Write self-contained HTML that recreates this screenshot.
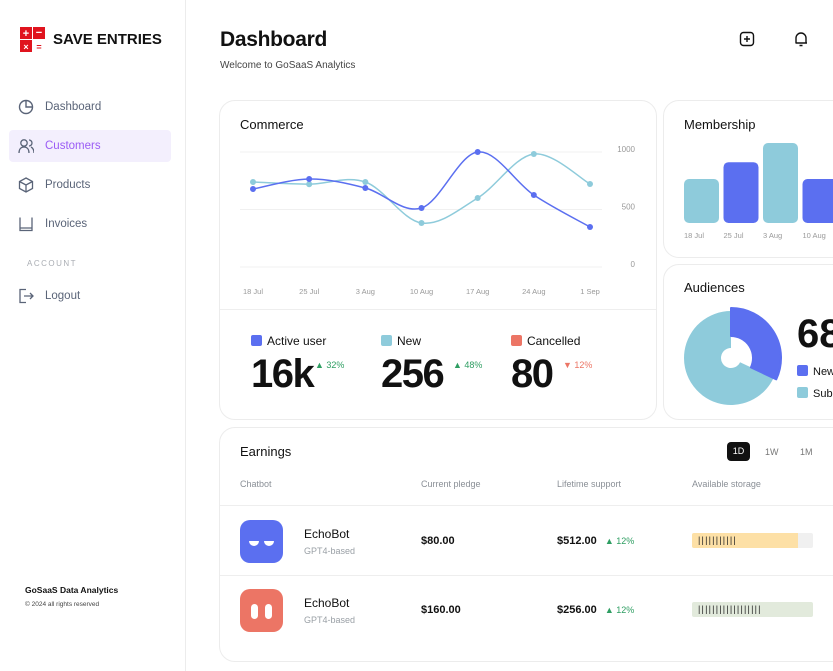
<!DOCTYPE html>
<html><head><meta charset="utf-8"><style>
body{margin:0;width:833px;height:671px;overflow:hidden;background:#fff;font-family:"Liberation Sans",sans-serif;position:relative}
.a{position:absolute}
.card{position:absolute;border:1px solid #ececec;border-radius:16px;background:#fff;box-sizing:border-box}
.nav{position:absolute;left:45px;font-size:11.5px;color:#5a6478}
.ic{position:absolute;left:18px;width:16px;height:16px}
.g{color:#9aa0a6;font-size:8px}
.hd{font-size:9px;color:#8a8f96}
</style></head><body>
<div class="a" style="left:0;top:0;width:185px;height:671px;border-right:1px solid #ececec"></div>
<svg class="a" style="left:20px;top:27px" width="26" height="26">
<rect x="0" y="0" width="12" height="12" fill="#e0141e"/><rect x="13" y="0" width="12" height="12" fill="#e0141e"/><rect x="0" y="13" width="12" height="12" fill="#e0141e"/>
<text x="6" y="10" fill="#fff" font-size="11" font-weight="bold" text-anchor="middle">+</text><text x="19" y="9" fill="#fff" font-size="11" font-weight="bold" text-anchor="middle">−</text><text x="6" y="23" fill="#fff" font-size="9" font-weight="bold" text-anchor="middle">×</text><text x="19" y="23" fill="#e0141e" font-size="9" font-weight="bold" text-anchor="middle">=</text></svg>
<div class="a" style="left:53px;top:31px;font-size:15px;font-weight:bold;color:#111">SAVE ENTRIES</div>
<svg class="ic" style="top:99px"><circle cx="8" cy="8" r="6.5" fill="none" stroke="#5a6478" stroke-width="1.4"/><path d="M8 1.5V8H14.5" fill="none" stroke="#5a6478" stroke-width="1.4"/></svg>
<div class="nav" style="top:101px">Dashboard</div>
<div class="a" style="left:9px;top:130px;width:162px;height:32px;background:#f3effd;border-radius:4px"></div>
<svg class="ic" style="top:138px"><circle cx="6" cy="5" r="3.2" fill="none" stroke="#5a6478" stroke-width="1.3"/><path d="M1 15c0-4 2-6 5-6s5 2 5 6M11 2a3 3 0 010 6M13 9c2 1 3 3 3 6" fill="none" stroke="#5a6478" stroke-width="1.3"/></svg>
<div class="nav" style="top:140px;color:#9b5cf5">Customers</div>
<svg class="ic" style="top:177px"><path d="M8 1L14.5 4.5V11.5L8 15L1.5 11.5V4.5ZM1.5 4.5L8 8L14.5 4.5M8 8V15" fill="none" stroke="#5a6478" stroke-width="1.3"/></svg>
<div class="nav" style="top:179px">Products</div>
<svg class="ic" style="top:216px"><path d="M2 1.5V14.5H14V1.5M2 12H14" fill="none" stroke="#5a6478" stroke-width="1.3"/></svg>
<div class="nav" style="top:218px">Invoices</div>
<div class="a" style="left:27px;top:259px;font-size:8px;letter-spacing:1.5px;color:#a9adb3">ACCOUNT</div>
<svg class="ic" style="top:288px"><path d="M8 1.5H2V14.5H8M6 8H15M12 5L15 8L12 11" fill="none" stroke="#5a6478" stroke-width="1.3"/></svg>
<div class="nav" style="top:290px">Logout</div>
<div class="a" style="left:25px;top:585px;font-size:8.5px;font-weight:bold;color:#111">GoSaaS Data Analytics</div>
<div class="a" style="left:25px;top:601px;font-size:6.5px;color:#444">© 2024 all rights reserved</div>

<div class="a" style="left:220px;top:28px;font-size:21px;font-weight:bold;color:#111;letter-spacing:-0.3px">Dashboard</div>
<div class="a" style="left:220px;top:60px;font-size:10px;color:#444">Welcome to GoSaaS Analytics</div>
<svg class="a" style="left:739px;top:31px" width="16" height="16"><rect x="1.5" y="1.5" width="13" height="13" rx="3" fill="none" stroke="#111" stroke-width="1.4"/><path d="M8 5V11M5 8H11" stroke="#111" stroke-width="1.4"/></svg>
<svg class="a" style="left:793px;top:31px" width="16" height="16"><path d="M3 12V7a5 5 0 0110 0V12H2.5M14 12H13M6.5 14.5h3" fill="none" stroke="#111" stroke-width="1.4"/></svg>

<div class="card" style="left:219px;top:100px;width:438px;height:320px"></div>
<div class="a" style="left:240px;top:117px;font-size:13px;color:#111">Commerce</div>
<svg class="a" id="lc" style="left:219px;top:100px" width="438" height="210"></svg>
<div class="a" style="left:220px;top:309px;width:436px;height:1px;background:#eee"></div>
<div class="a" style="left:251px;top:334px">
<div style="position:absolute;left:0;top:1px;width:11px;height:11px;border-radius:2px;background:#5b6ff0"></div>
<div style="position:absolute;left:16px;top:0;font-size:12px;white-space:nowrap;color:#111">Active user</div>
<div style="position:absolute;left:0;top:18px;font-size:40px;font-weight:bold;color:#111;letter-spacing:-1.5px">16k</div>
<div style="position:absolute;left:64px;top:26px;font-size:9px;color:#2e9e62;white-space:nowrap">▲ 32%</div></div>
<div class="a" style="left:381px;top:334px">
<div style="position:absolute;left:0;top:1px;width:11px;height:11px;border-radius:2px;background:#8ecbdb"></div>
<div style="position:absolute;left:16px;top:0;font-size:12px;color:#111">New</div>
<div style="position:absolute;left:0;top:18px;font-size:40px;font-weight:bold;color:#111;letter-spacing:-1.5px">256</div>
<div style="position:absolute;left:72px;top:26px;font-size:9px;color:#2e9e62;white-space:nowrap">▲ 48%</div></div>
<div class="a" style="left:511px;top:334px">
<div style="position:absolute;left:0;top:1px;width:11px;height:11px;border-radius:2px;background:#ec7565"></div>
<div style="position:absolute;left:16px;top:0;font-size:12px;color:#111">Cancelled</div>
<div style="position:absolute;left:0;top:18px;font-size:40px;font-weight:bold;color:#111;letter-spacing:-1.5px">80</div>
<div style="position:absolute;left:52px;top:26px;font-size:9px;color:#ec7565;white-space:nowrap">▼ 12%</div></div>

<div class="card" style="left:663px;top:100px;width:190px;height:158px"></div>
<div class="a" style="left:684px;top:117px;font-size:13px;color:#111">Membership</div>
<svg class="a" id="bc" style="left:663px;top:100px" width="170" height="158"></svg>

<div class="card" style="left:663px;top:264px;width:190px;height:156px"></div>
<div class="a" style="left:684px;top:280px;font-size:13px;color:#111">Audiences</div>
<svg class="a" id="pc" style="left:663px;top:264px" width="130" height="156"></svg>
<div class="a" style="left:797px;top:312px;font-size:40px;font-weight:bold;color:#111">68</div>
<div class="a" style="left:797px;top:365px;font-size:11px;color:#111;white-space:nowrap"><span style="display:inline-block;width:11px;height:11px;background:#5b6ff0;border-radius:2px;vertical-align:-1px;margin-right:5px"></span>New</div>
<div class="a" style="left:797px;top:387px;font-size:11px;color:#111;white-space:nowrap"><span style="display:inline-block;width:11px;height:11px;background:#8ecbdb;border-radius:2px;vertical-align:-1px;margin-right:5px"></span>Subscribed</div>

<div class="card" style="left:219px;top:427px;width:640px;height:235px"></div>
<div class="a" style="left:240px;top:444px;font-size:13px;color:#111">Earnings</div>
<div class="a" style="left:727px;top:442px;width:23px;height:19px;border-radius:4px;background:#111;color:#fff;font-size:9px;text-align:center;line-height:19px">1D</div>
<div class="a" style="left:765px;top:447px;font-size:9px;color:#777">1W</div>
<div class="a" style="left:800px;top:447px;font-size:9px;color:#777">1M</div>
<div class="a hd" style="left:240px;top:479px">Chatbot</div>
<div class="a hd" style="left:421px;top:479px">Current pledge</div>
<div class="a hd" style="left:557px;top:479px">Lifetime support</div>
<div class="a hd" style="left:692px;top:479px">Available storage</div>
<div class="a" style="left:220px;top:505px;width:613px;height:1px;background:#eee"></div>
<div class="a" style="left:220px;top:575px;width:613px;height:1px;background:#eee"></div>

<svg class="a" style="left:240px;top:520px" width="43" height="43"><rect width="43" height="43" rx="10" fill="#5b6ff0"/><path d="M9 21h10a5 5 0 01-10 0zM24 21h10a5 5 0 01-10 0z" fill="#fff"/></svg>
<div class="a" style="left:304px;top:527px;font-size:12px;color:#111">EchoBot</div>
<div class="a g" style="left:304px;top:546px;font-size:9px">GPT4-based</div>
<div class="a" style="left:421px;top:535px;font-size:11px;font-weight:bold;color:#111">$80.00</div>
<div class="a" style="left:557px;top:535px;font-size:11px;font-weight:bold;color:#111">$512.00 <span style="font-size:9px;color:#2e9e62;font-weight:normal;margin-left:5px">▲ 12%</span></div>
<div class="a" style="left:692px;top:533px;width:121px;height:15px;background:#f0f0f0;border-radius:2px;overflow:hidden"><div style="width:106px;height:15px;background:#fde0a6;font-size:9px;line-height:15px;letter-spacing:1.2px;padding-left:6px;box-sizing:border-box;color:#222;white-space:nowrap">|||||||||||</div></div>

<svg class="a" style="left:240px;top:589px" width="43" height="43"><rect width="43" height="43" rx="10" fill="#ec7565"/><rect x="11" y="15" width="7" height="15" rx="3.5" fill="#fff"/><rect x="25" y="15" width="7" height="15" rx="3.5" fill="#fff"/></svg>
<div class="a" style="left:304px;top:596px;font-size:12px;color:#111">EchoBot</div>
<div class="a g" style="left:304px;top:615px;font-size:9px">GPT4-based</div>
<div class="a" style="left:421px;top:604px;font-size:11px;font-weight:bold;color:#111">$160.00</div>
<div class="a" style="left:557px;top:604px;font-size:11px;font-weight:bold;color:#111">$256.00 <span style="font-size:9px;color:#2e9e62;font-weight:normal;margin-left:5px">▲ 12%</span></div>
<div class="a" style="left:692px;top:602px;width:121px;height:15px;background:#e2eadc;border-radius:2px;overflow:hidden;font-size:9px;line-height:15px;letter-spacing:1.2px;padding-left:6px;box-sizing:border-box;color:#222;white-space:nowrap">||||||||||||||||||</div>

<script>
const NS='http://www.w3.org/2000/svg';
const dates=['18 Jul','25 Jul','3 Aug','10 Aug','17 Aug','24 Aug','1 Sep'];
const activeUsers=[678,765,687,513,1000,626,348];
const newUsers=[739,720,739,383,600,983,722];
const yTicks=[0,500,1000];
const memberDates=['18 Jul','25 Jul','3 Aug','10 Aug'];
const memberValues=[55,76,100,55];
const audienceValues=[32,68];

function mk(p,t,a){const e=document.createElementNS(NS,t);for(const k in a)e.setAttribute(k,a[k]);p.appendChild(e);return e;}
const lc=document.getElementById('lc');
const x=i=>34+i*(337/(dates.length-1));
const y=v=>167-v*0.115;
yTicks.forEach(t=>{
  const l=mk(lc,'line',{x1:21,x2:383,y1:y(t),y2:y(t),stroke:'#f0f0f0'});
  
  
  const tx=mk(lc,'text',{x:416,y:y(t),'font-size':8,fill:'#999','text-anchor':'end'});tx.textContent=t;
  
  
});
dates.forEach((d,i)=>{
  const tx=mk(lc,'text',{x:x(i),y:194,'font-size':7.5,fill:'#999','text-anchor':'middle'});tx.textContent=d;
  
  
});
function path(vals){
  const p=vals.map((v,i)=>[x(i),y(v)]);let d='M'+p[0];
  for(let i=0;i<p.length-1;i++){const p0=p[i-1]||p[i],p1=p[i],p2=p[i+1],p3=p[i+2]||p2;
    d+='C'+(p1[0]+(p2[0]-p0[0])/6)+','+(p1[1]+(p2[1]-p0[1])/6)+' '+(p2[0]-(p3[0]-p1[0])/6)+','+(p2[1]-(p3[1]-p1[1])/6)+' '+p2;}
  return d;}
[[newUsers,'#8ecbdb','new'],[activeUsers,'#5b6ff0','active']].forEach(([vals,c,n])=>{
  const l=mk(lc,'path',{d:path(vals),fill:'none',stroke:c,'stroke-width':1.5});
  
  
  vals.forEach((v,i)=>{const pt=mk(lc,'circle',{cx:x(i),cy:y(v),r:3,fill:c});
    
    });
});
const bc=document.getElementById('bc');
memberValues.forEach((v,i)=>{const h=v*0.8,bx=21+i*39.5;
  const r=mk(bc,'rect',{x:bx,y:123-h,width:35,height:h,rx:5,fill:i%2?'#5b6ff0':'#8ecbdb'});
  
  
  const t=mk(bc,'text',{x:bx,y:138,'font-size':7.5,fill:'#999'});t.textContent=memberDates[i];
  
  
});
const pc=document.getElementById('pc');const cx=68,cy=94;
function sector(a0,a1,r0,r1){const P=(a,r)=>[cx+r*Math.sin(a),cy-r*Math.cos(a)];const lg=(a1-a0)>Math.PI?1:0;
  const A=P(a0,r1),B=P(a1,r1),C=P(a1,r0),D=P(a0,r0);
  return 'M'+A+'A'+r1+','+r1+' 0 '+lg+' 1 '+B+'L'+C+'A'+r0+','+r0+' 0 '+lg+' 0 '+D+'Z';}
const tot=audienceValues[0]+audienceValues[1];
const aNew=audienceValues[0]/tot*2*Math.PI;
const s2=mk(pc,'path',{d:sector(aNew,2*Math.PI-0.0001,10,47),fill:'#8ecbdb'});


const s1=mk(pc,'path',{d:sector(0,aNew,22,50),fill:'#5b6ff0','stroke-linejoin':'round',stroke:'#5b6ff0','stroke-width':2});


</script>
</body></html>
